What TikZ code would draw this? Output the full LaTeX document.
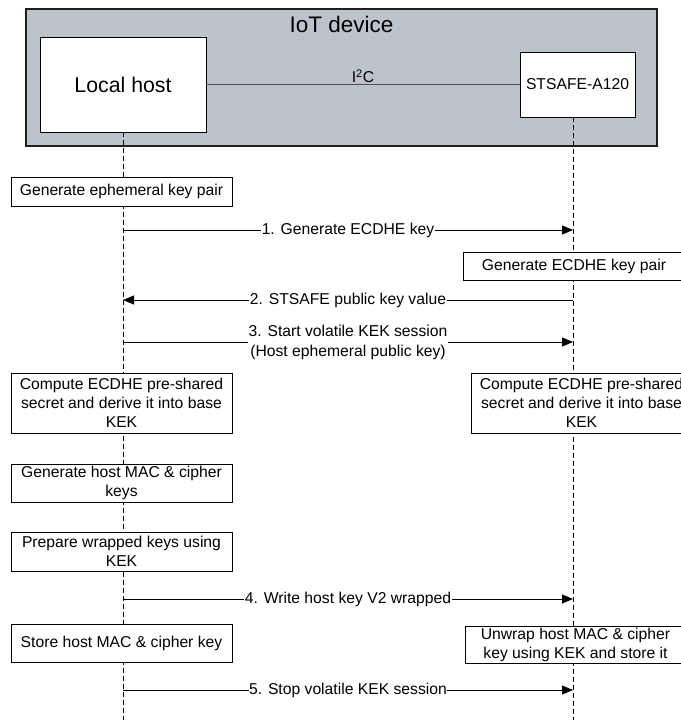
\documentclass[tikz,border=0pt]{standalone}
\usepackage{fontspec}
\setmainfont{Liberation Sans}
\usetikzlibrary{arrows.meta}
\definecolor{devgray}{RGB}{189,195,202}
\definecolor{devborder}{RGB}{30,30,30}
\definecolor{busline}{RGB}{80,80,80}
\begin{document}
\begin{tikzpicture}[x=1pt,y=-1pt,
  stepbox/.style={draw=black, fill=white, line width=0.8pt, align=center,
    font=\fontsize{15.7}{19}\selectfont, inner sep=0pt, minimum width=221pt},
  partbox/.style={draw=black, fill=white, line width=0.8pt, inner sep=0pt},
  lifeline/.style={draw=black, line width=0.8pt, dash pattern=on 5pt off 3pt},
  msg/.style={draw=black, line width=1pt, -{Triangle[length=11pt,width=9pt]}},
  msglabel/.style={fill=white, inner sep=0.5pt, align=center,
    font=\fontsize{15.7}{20}\selectfont},
]
\useasboundingbox (0,0) rectangle (680,720);

% device frame
\node[draw=devborder, fill=devgray, line width=2.5pt, minimum width=631pt,
  minimum height=137pt, inner sep=0pt] (dev) at (341.5,77.5) {};
\node[font=\fontsize{22.5}{27}\selectfont] (devtitle) at (341.5,24) {IoT device};

\node[partbox, minimum width=166pt, minimum height=95pt,
  font=\fontsize{21.3}{25}\selectfont] (lh) at (123,84.5) {Local host};
\node[partbox, minimum width=115pt, minimum height=65pt,
  font=\fontsize{15.7}{19}\selectfont] (st) at (577.5,84.5) {STSAFE-A120};
\draw[busline, line width=1pt] (lh.east) -- node[above, inner sep=1.5pt, text=black,
  font=\fontsize{15.7}{19}\selectfont] (i2c) {I\textsuperscript{2}C} (st.west);

% lifelines
\coordinate (Lend) at (123,720);
\coordinate (Rtop) at (573,117);
\coordinate (Rend) at (573,720);
\draw[lifeline] (lh.south) -- (Lend);
\draw[lifeline] (Rtop) -- (Rend);

% step boxes
\node[stepbox, minimum height=29pt] (g1) at (121.5,191.5) {Generate ephemeral key pair};
\node[stepbox, minimum width=222pt, minimum height=28pt] (g2) at (574,266) {Generate ECDHE key pair};
\node[stepbox, minimum height=60pt] (c1) at (121.5,403) {Compute ECDHE pre-shared\\secret and derive it into base\\KEK};
\node[stepbox, minimum height=60pt] (c2) at (581.5,403) {Compute ECDHE pre-shared\\secret and derive it into base\\KEK};
\node[stepbox, minimum height=38pt] (mk) at (121.5,483) {Generate host MAC \& cipher\\keys};
\node[stepbox, minimum height=39pt] (pw) at (121.5,551.5) {Prepare wrapped keys using\\KEK};
\node[stepbox, minimum height=38pt] (sk) at (121.5,643) {Store host MAC \& cipher key};
\node[stepbox, minimum height=37pt] (uw) at (575.5,644.5) {Unwrap host MAC \& cipher\\key using KEK and store it};

% messages
\coordinate (m1L) at (123,230); \coordinate (m1R) at (573,230);
\coordinate (m2L) at (123,300); \coordinate (m2R) at (573,300);
\coordinate (m3L) at (123,342); \coordinate (m3R) at (573,342);
\coordinate (m4L) at (123,599); \coordinate (m4R) at (573,599);
\coordinate (m5L) at (123,690); \coordinate (m5R) at (573,690);

\draw[msg] (m1L) -- node[msglabel] (l1) {1. Generate ECDHE key} (m1R);
\draw[msg] (m2R) -- node[msglabel] (l2) {2. STSAFE public key value} (m2L);
\draw[msg] (m3L) -- node[msglabel] (l3) {3. Start volatile KEK session\\(Host ephemeral public key)} (m3R);
\draw[msg] (m4L) -- node[msglabel] (l4) {4. Write host key V2 wrapped} (m4R);
\draw[msg] (m5L) -- node[msglabel] (l5) {5. Stop volatile KEK session} (m5R);
\end{tikzpicture}
\end{document}
